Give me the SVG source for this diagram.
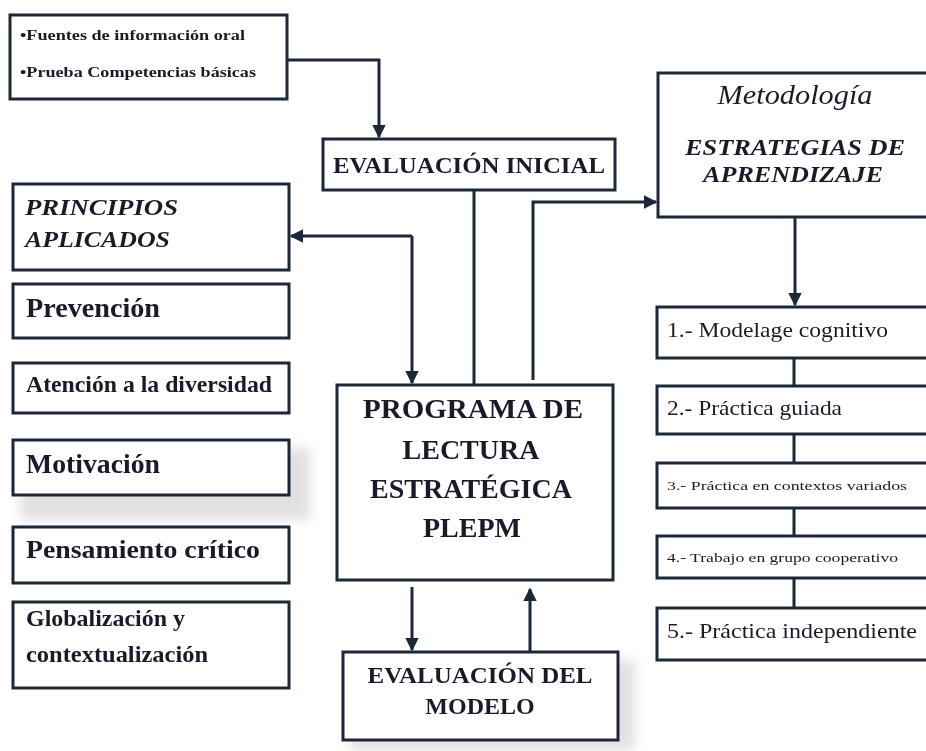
<svg xmlns="http://www.w3.org/2000/svg" width="926" height="751" viewBox="0 0 926 751">
<defs>
<style>
.box{fill:#fff;stroke:#1c2838;stroke-width:3}
.ln{fill:none;stroke:#1c2838;stroke-width:3}
.t{font-family:"Liberation Serif","DejaVu Serif",serif;font-weight:bold;fill:#1a1a2a}
.n{font-weight:normal}
.i{font-style:italic}
.c{text-anchor:middle}
</style>
<marker id="ah" viewBox="0 0 10 10" refX="9" refY="5" markerWidth="4.5" markerHeight="4.5" orient="auto" markerUnits="strokeWidth">
<path d="M0,0 L10,5 L0,10 z" fill="#1c2838"/>
</marker>
<filter id="sh" x="-10%" y="-10%" width="130%" height="140%">
<feGaussianBlur stdDeviation="6"/>
</filter>
</defs>
<rect width="926" height="751" fill="#fff"/>
<g id="shadows" opacity="0.12">
<rect x="20" y="448" width="290" height="72" fill="#000" filter="url(#sh)"/>
<rect x="350" y="660" width="285" height="90" fill="#000" filter="url(#sh)"/>
</g>
<g id="fuentes">
<rect class="box" x="10" y="15" width="277" height="84"/>
<text class="t" x="20" y="40" font-size="14" textLength="225" lengthAdjust="spacingAndGlyphs">•Fuentes de información  oral</text>
<text class="t" x="20" y="77" font-size="14" textLength="236" lengthAdjust="spacingAndGlyphs">•Prueba Competencias básicas</text>
</g>
<g id="eval-inicial">
<rect class="box" x="323" y="139" width="292" height="51"/>
<text class="t c" x="469" y="173" font-size="23" textLength="272" lengthAdjust="spacingAndGlyphs">EVALUACIÓN INICIAL</text>
</g>
<g id="metodologia">
<rect class="box" x="658" y="73" width="290" height="144"/>
<text class="t i n c" x="795" y="104" font-size="27" textLength="155" lengthAdjust="spacingAndGlyphs">Metodología</text>
<text class="t i c" x="795" y="155" font-size="24" textLength="220" lengthAdjust="spacingAndGlyphs">ESTRATEGIAS DE</text>
<text class="t i c" x="793" y="182" font-size="24" textLength="180" lengthAdjust="spacingAndGlyphs">APRENDIZAJE</text>
</g>
<g id="principios">
<rect class="box" x="13" y="184" width="276" height="86"/>
<text class="t i" x="25" y="215" font-size="24" textLength="153" lengthAdjust="spacingAndGlyphs">PRINCIPIOS</text>
<text class="t i" x="25" y="247" font-size="24" textLength="145" lengthAdjust="spacingAndGlyphs">APLICADOS</text>
</g>
<g id="prevencion">
<rect class="box" x="13" y="284" width="276" height="54"/>
<text class="t" x="26" y="317" font-size="27" textLength="134" lengthAdjust="spacingAndGlyphs">Prevención</text>
</g>
<g id="atencion">
<rect class="box" x="13" y="363" width="276" height="50"/>
<text class="t" x="26" y="392" font-size="23" textLength="246" lengthAdjust="spacingAndGlyphs">Atención a la diversidad</text>
</g>
<g id="motivacion">
<rect class="box" x="13" y="440" width="276" height="55"/>
<text class="t" x="26" y="473" font-size="27" textLength="134" lengthAdjust="spacingAndGlyphs">Motivación</text>
</g>
<g id="pensamiento">
<rect class="box" x="13" y="527" width="276" height="56"/>
<text class="t" x="26" y="558" font-size="26" textLength="234" lengthAdjust="spacingAndGlyphs">Pensamiento crítico</text>
</g>
<g id="globalizacion">
<rect class="box" x="13" y="602" width="276" height="86"/>
<text class="t" x="26" y="626" font-size="23" textLength="159" lengthAdjust="spacingAndGlyphs">Globalización y</text>
<text class="t" x="26" y="662" font-size="23" textLength="182" lengthAdjust="spacingAndGlyphs">contextualización</text>
</g>
<g id="programa">
<rect class="box" x="337" y="385" width="276" height="195"/>
<text class="t c" x="473" y="418" font-size="28" textLength="220" lengthAdjust="spacingAndGlyphs">PROGRAMA  DE</text>
<text class="t c" x="471" y="459" font-size="28">LECTURA</text>
<text class="t c" x="471" y="498" font-size="28">ESTRATÉGICA</text>
<text class="t c" x="472" y="537" font-size="28">PLEPM</text>
</g>
<g id="eval-modelo">
<rect class="box" x="343" y="652" width="275" height="88"/>
<text class="t c" x="480" y="683" font-size="24" textLength="225" lengthAdjust="spacingAndGlyphs">EVALUACIÓN DEL</text>
<text class="t c" x="480" y="714" font-size="24">MODELO</text>
</g>
<g id="paso1">
<rect class="box" x="657" y="307" width="290" height="51"/>
<text class="t n" x="667" y="337" font-size="22" textLength="221" lengthAdjust="spacingAndGlyphs">1.- Modelage cognitivo</text>
</g>
<g id="paso2">
<rect class="box" x="657" y="386" width="290" height="48"/>
<text class="t n" x="667" y="415" font-size="22" textLength="175" lengthAdjust="spacingAndGlyphs">2.- Práctica guiada</text>
</g>
<g id="paso3">
<rect class="box" x="657" y="463" width="290" height="45"/>
<text class="t n" x="667" y="490" font-size="12" textLength="240" lengthAdjust="spacingAndGlyphs">3.- Práctica en contextos variados</text>
</g>
<g id="paso4">
<rect class="box" x="657" y="536" width="290" height="42"/>
<text class="t n" x="667" y="562" font-size="12" textLength="231" lengthAdjust="spacingAndGlyphs">4.- Trabajo en grupo cooperativo</text>
</g>
<g id="paso5">
<rect class="box" x="657" y="608" width="290" height="52"/>
<text class="t n" x="667" y="638" font-size="22" textLength="250" lengthAdjust="spacingAndGlyphs">5.- Práctica independiente</text>
</g>
<g id="connectors">
<path class="ln" d="M287,60 H379 V137" marker-end="url(#ah)"/>
<path class="ln" d="M474,190 V385"/>
<path class="ln" d="M533,380 V202 H656" marker-end="url(#ah)"/>
<path class="ln" d="M412,236 H291" marker-end="url(#ah)"/>
<path class="ln" d="M412,236 V383" marker-end="url(#ah)"/>
<path class="ln" d="M795,217 V305" marker-end="url(#ah)"/>
<path class="ln" d="M794,358 V386 M794,434 V463 M794,508 V536 M794,578 V608"/>
<path class="ln" d="M412,587 V650" marker-end="url(#ah)"/>
<path class="ln" d="M530,652 V589" marker-end="url(#ah)"/>
</g>
</svg>
